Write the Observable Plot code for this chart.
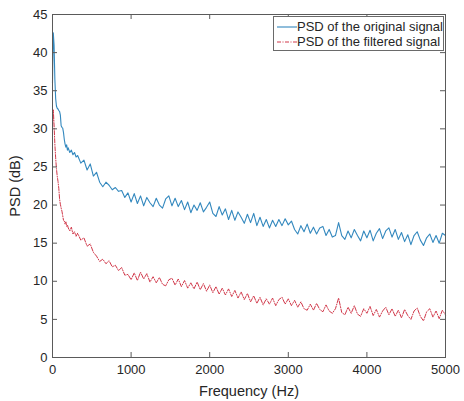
<!DOCTYPE html>
<html>
<head>
<meta charset="utf-8">
<script src="https://cdn.jsdelivr.net/npm/d3@7"></script>
<script src="https://cdn.jsdelivr.net/npm/@observablehq/plot@0.6"></script>
<style>
  html, body { margin: 0; padding: 0; background: #fff; }
  #wrap { position: relative; width: 464px; height: 401px; font-family: "Liberation Sans", Arial, sans-serif; }
  #legend { position: absolute; left: 273px; top: 16px; width: 171px; height: 35px; border: 1px solid #6a6a6a; background: #fff; box-sizing: border-box; font-size: 13px; color: #262626; }
  #legend .row { position: absolute; left: 0; height: 15px; line-height: 15px; white-space: nowrap; }
  #legend svg { position: absolute; left: 2px; top: 0; }
  #legend span { position: absolute; left: 23px; top: 0; }
</style>
</head>
<body>
<div id="wrap">
  <div id="chart"></div>
  <div id="legend"></div>
</div>
<script>
// Frequency grid (Hz)
const freq = [
  0, 10, 20, 30, 40, 50, 60, 70, 80, 90,
  100, 110, 120, 130, 140, 150, 160, 170, 180, 190,
  200, 220, 240, 260, 280, 300, 320, 360, 400, 440,
  480, 520, 560, 600, 640, 680, 720, 760, 800, 840,
  880, 920, 960, 1000, 1040, 1080, 1120, 1160, 1200, 1240,
  1280, 1320, 1360, 1400, 1440, 1480, 1520, 1560, 1600, 1640,
  1680, 1720, 1760, 1800, 1840, 1880, 1920, 1960, 2000, 2040,
  2080, 2120, 2160, 2200, 2240, 2280, 2320, 2360, 2400, 2440,
  2480, 2520, 2560, 2600, 2640, 2680, 2720, 2760, 2800, 2840,
  2880, 2920, 2960, 3000, 3040, 3080, 3120, 3160, 3200, 3240,
  3280, 3320, 3360, 3400, 3440, 3480, 3520, 3560, 3600, 3640,
  3680, 3720, 3760, 3800, 3840, 3880, 3920, 3960, 4000, 4040,
  4080, 4120, 4160, 4200, 4240, 4280, 4320, 4360, 4400, 4440,
  4480, 4520, 4560, 4600, 4640, 4680, 4720, 4760, 4800, 4840,
  4880, 4920, 4960, 5000
];

// PSD of the original signal (dB)
const psdOriginal = [
  36.0, 42.6, 41.0, 36.5, 34.0, 33.0, 32.7, 32.6, 32.4, 32.3,
  31.8, 30.4, 30.2, 30.1, 29.5, 28.6, 28.0, 27.6, 27.9, 27.2,
  27.5, 26.9, 27.2, 26.6, 26.9, 26.3, 26.5, 25.5, 25.9, 24.6,
  25.4, 23.8, 24.3, 23.0, 22.4, 23.0, 22.6, 22.0, 22.3, 21.8,
  21.9, 21.0, 21.6, 20.4, 21.5, 20.2, 21.2, 19.9, 21.0, 20.3,
  19.8, 20.9, 20.0, 19.6, 20.8, 21.2, 19.9, 20.9, 19.8, 20.6,
  19.4, 20.4, 19.0, 20.0, 19.3, 20.3, 19.1, 19.7, 20.4, 18.9,
  18.5, 19.8, 18.7, 19.5, 18.1, 19.3, 18.0, 19.1, 18.4, 17.6,
  18.8, 17.7, 18.9, 17.3, 18.4, 17.2, 18.1, 17.0, 18.0, 17.2,
  18.1, 17.3, 18.2, 17.4, 17.9, 16.8, 16.2, 17.3, 16.5, 17.5,
  16.3, 17.1, 16.2, 17.0, 17.2, 16.0, 16.8, 15.8, 16.0, 17.7,
  16.0, 15.5, 16.6, 15.7, 16.8, 16.0, 15.3, 16.6, 15.7, 16.7,
  15.3, 16.3, 16.9, 15.6, 16.6, 17.0, 15.8, 16.8, 15.5, 16.4,
  15.2, 16.1, 14.8, 16.0, 16.5, 15.4, 14.7, 15.7, 16.2, 15.1,
  16.0, 15.0, 16.3, 16.0
];

// PSD of the filtered signal (dB)
const psdFiltered = [
  30.0, 32.5, 30.5, 28.0, 26.2, 24.8, 23.8, 23.1, 22.2, 20.8,
  20.1, 19.6, 19.2, 18.6, 18.0, 17.9, 17.5, 17.8, 17.2, 17.4,
  17.0, 16.6, 17.1, 16.2, 16.5, 15.9, 16.3, 15.4, 15.7, 14.6,
  14.9, 13.8, 13.3, 12.6, 12.9, 12.3, 12.7, 11.9, 12.1, 11.4,
  11.8, 10.8, 10.9, 10.2, 11.1, 10.1, 11.2, 10.3, 11.0, 9.9,
  10.6, 9.8, 10.5, 9.6, 9.4, 10.2, 10.4, 9.5, 10.3, 9.3,
  10.1, 9.1, 9.8, 9.0, 9.9, 8.9, 9.7, 8.7, 9.5, 8.5,
  9.3, 8.3, 9.1, 8.2, 9.0, 8.0, 8.8, 7.8, 8.6, 7.6,
  8.4, 7.3, 8.1, 7.1, 7.9, 6.9, 7.7, 7.0, 7.8, 6.8,
  7.6, 7.9, 7.0, 7.7, 6.8, 7.5, 6.6, 7.3, 6.4, 6.2,
  7.0, 6.2, 7.1, 6.3, 6.0, 6.9, 6.1, 5.8, 6.4, 7.8,
  5.9, 5.6, 6.6, 5.8, 6.8, 5.7, 5.4, 6.4, 5.8, 6.7,
  5.5, 6.3, 5.3, 6.1, 6.6, 5.6, 6.4, 5.4, 6.2, 5.2,
  6.3, 5.5, 5.0, 6.1, 6.5, 5.4, 4.8, 6.0, 6.4, 5.3,
  6.1, 5.1, 6.2, 5.6
];

const xTicks = [0, 1000, 2000, 3000, 4000, 5000];
const yTicks = [0, 5, 10, 15, 20, 25, 30, 35, 40, 45];
const seriesNames = ["PSD of the original signal", "PSD of the filtered signal"];
const xLabel = "Frequency (Hz)";
const yLabel = "PSD (dB)";

const blue = "#3388be";
const red = "#d1384a";
const axisColor = "#5a5a5a";

const orig = freq.map((f, i) => ({f, v: psdOriginal[i]}));
const filt = freq.map((f, i) => ({f, v: psdFiltered[i]}));

const W = 464, H = 401, mL = 52, mR = 19, mT = 14, mB = 44;
const fw = W - mL - mR, fh = H - mT - mB, tl = 5;
const plain = d => String(d);

const chart = Plot.plot({
  width: W, height: H,
  marginLeft: mL, marginRight: mR, marginTop: mT, marginBottom: mB,
  style: {fontFamily: '"Liberation Sans", Arial, sans-serif', fontSize: "13px", color: "#262626", background: "#fff", overflow: "visible"},
  x: {domain: [0, 5000]},
  y: {domain: [0, 45]},
  marks: [
    Plot.line(filt, {x: "f", y: "v", stroke: red, strokeWidth: 1, strokeDasharray: "4,1.5,1,1.5"}),
    Plot.line(orig, {x: "f", y: "v", stroke: blue, strokeWidth: 1.1}),
    Plot.ruleX(xTicks, {stroke: axisColor, insetTop: fh - tl}),
    Plot.ruleX(xTicks, {stroke: axisColor, insetBottom: fh - tl}),
    Plot.ruleY(yTicks, {stroke: axisColor, insetRight: fw - tl}),
    Plot.ruleY(yTicks, {stroke: axisColor, insetLeft: fw - tl}),
    Plot.frame({stroke: axisColor}),
    Plot.axisX(xTicks, {tickSize: 0, tickPadding: 7, tickFormat: plain, label: null, fontSize: 13}),
    Plot.axisX(xTicks, {tickSize: 0, tickFormat: () => "", label: xLabel, labelAnchor: "center", labelArrow: "none", labelOffset: 38, fontSize: 14.5}),
    Plot.axisY(yTicks, {tickSize: 0, tickPadding: 5, tickFormat: plain, label: null, fontSize: 13}),
    Plot.axisY(yTicks, {tickSize: 0, tickFormat: () => "", label: yLabel, labelAnchor: "center", labelArrow: "none", labelOffset: 43, fontSize: 14.5})
  ]
});
document.getElementById("chart").appendChild(chart);

// Legend (HTML overlay)
const legend = document.getElementById("legend");
const styles = [{stroke: blue, dash: null, width: 1.1}, {stroke: red, dash: "4,1.5,1,1.5", width: 1}];
seriesNames.forEach((name, i) => {
  const row = document.createElement("div");
  row.className = "row";
  row.style.top = (2 + i * 15) + "px";
  row.style.width = "169px";
  const s = d3.create("svg").attr("width", 21).attr("height", 15);
  s.append("line").attr("x1", 1).attr("x2", 21).attr("y1", 8).attr("y2", 8)
    .attr("stroke", styles[i].stroke).attr("stroke-width", styles[i].width)
    .attr("stroke-dasharray", styles[i].dash);
  row.appendChild(s.node());
  const sp = document.createElement("span");
  sp.textContent = name;
  row.appendChild(sp);
  legend.appendChild(row);
});
</script>
</body>
</html>
